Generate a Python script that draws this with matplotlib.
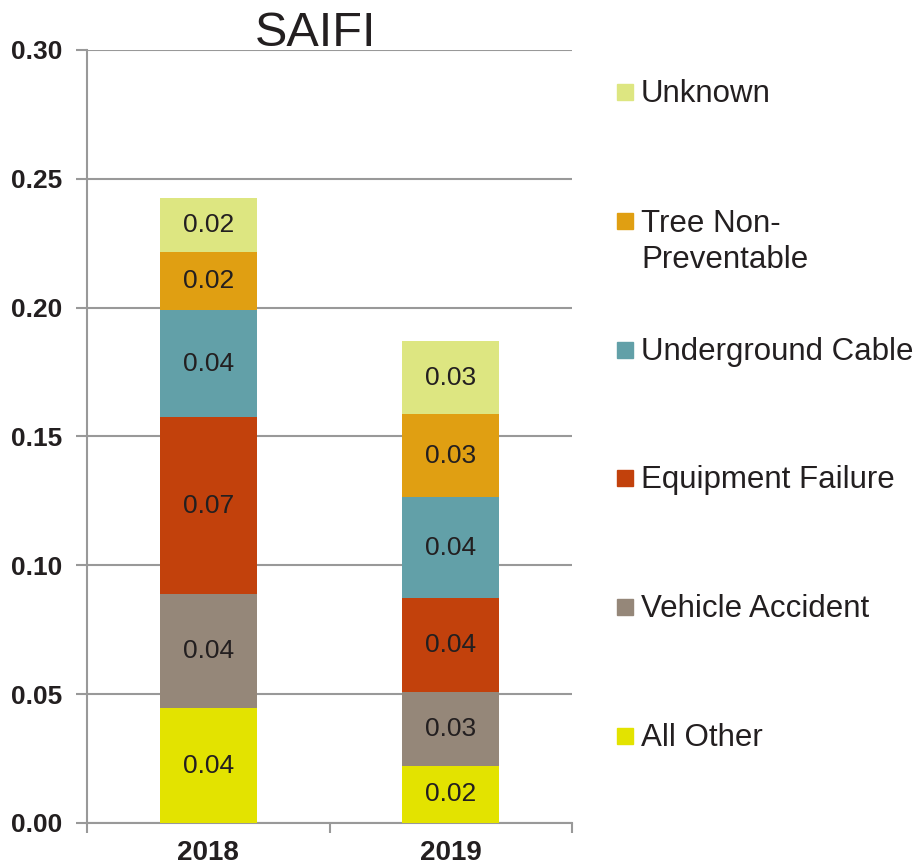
import matplotlib.pyplot as plt
from matplotlib.patches import Rectangle

plt.rcParams['font.family'] = ['Liberation Sans', 'DejaVu Sans']

years = ['2018', '2019']
causes = ['All Other', 'Vehicle Accident', 'Equipment Failure',
          'Underground Cable', 'Tree Non-\nPreventable', 'Unknown']
colors = ['#E3E300', '#958779', '#C2410C', '#62A0A8', '#E09F12', '#DDE681']

all_other = [0.0446, 0.0221]
vehicle = [0.0443, 0.0287]
equipment = [0.0686, 0.0365]
underground = [0.0416, 0.0392]
tree = [0.0225, 0.0322]
unknown = [0.0209, 0.0283]
series = [all_other, vehicle, equipment, underground, tree, unknown]

fig = plt.figure(figsize=(9.19, 8.66), dpi=100)
ax = fig.add_axes([0.0947, 0.0497, 0.5277, 0.8926])

x = list(range(len(years)))
bottom = [0.0] * len(years)
for vals, col in zip(series, colors):
    ax.bar(x, vals, width=0.4, bottom=bottom, color=col, zorder=3)
    for i, v in enumerate(vals):
        ax.text(x[i], bottom[i] + v / 2, f'{v:.2f}', ha='center', va='center',
                fontsize=19, color='#231F20', zorder=4)
    bottom = [b + v for b, v in zip(bottom, vals)]

ax.set_xlim(-0.5, 1.5)
ax.set_ylim(0, 0.30)
ax.set_yticks([0, 0.05, 0.10, 0.15, 0.20, 0.25, 0.30])
ax.set_yticklabels([f'{t:.2f}' for t in ax.get_yticks()],
                   fontsize=19, fontweight='bold', color='#231F20')
ax.set_xticks(x)
ax.set_xticklabels(years, fontsize=20, fontweight='bold', color='#231F20')
ax.set_xticks([-0.5, 0.5, 1.5], minor=True)
ax.tick_params(axis='x', which='major', length=0, pad=12)
ax.tick_params(axis='x', which='minor', length=7, width=1.5, color='#999999')
ax.tick_params(axis='y', length=8, width=1.5, color='#999999', pad=10)

ax.yaxis.grid(True, color='#999999', linewidth=1.5, zorder=0)
for s in ['top', 'right']:
    ax.spines[s].set_visible(False)
for s in ['left', 'bottom']:
    ax.spines[s].set_color('#999999')
    ax.spines[s].set_linewidth(1.5)

fig.text(316 / 919, 1 - 46 / 866, 'SAIFI', ha='center', va='baseline',
         fontsize=35, color='#231F20')

# legend, top entry first; pixel rows of the squares
leg_y = [92, 221, 350, 478, 607, 736]
for lab, col, yp in zip(causes[::-1], colors[::-1], leg_y):
    fig.patches.append(Rectangle((617 / 919, 1 - (yp + 8) / 866), 16 / 919, 16 / 866,
                                 transform=fig.transFigure, color=col))
    ty = yp + 21 if '\n' in lab else yp + 2
    fig.text(641 / 919, 1 - ty / 866, lab, ha='left', va='center',
             fontsize=22.5, color='#231F20', linespacing=1.25)

fig.savefig('out.png', dpi=100)
